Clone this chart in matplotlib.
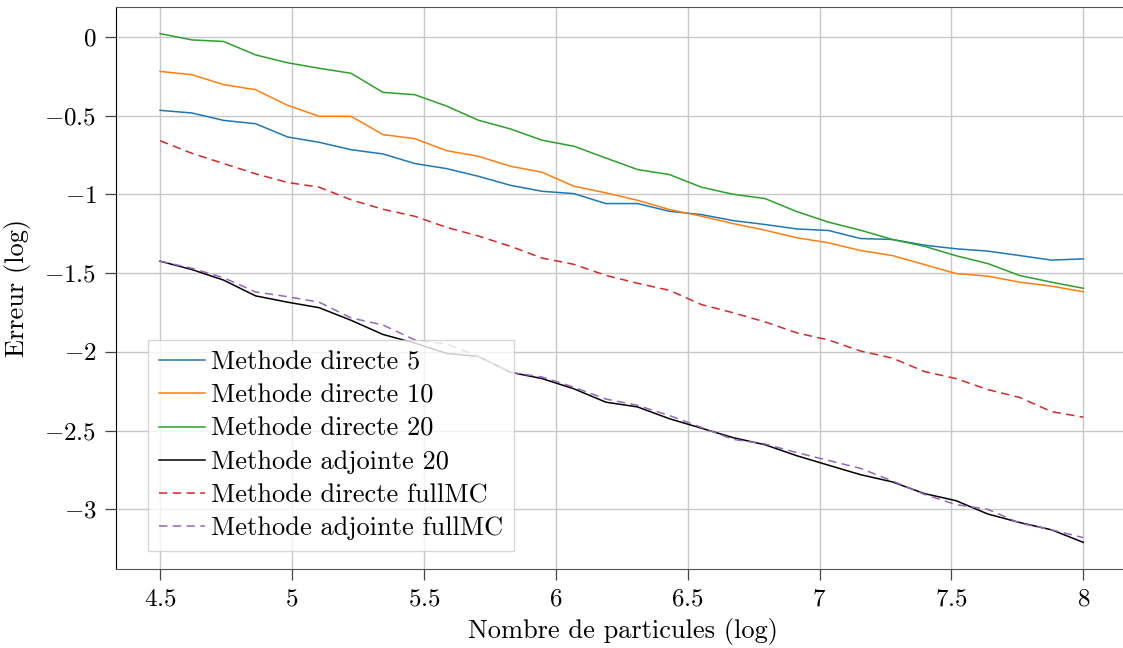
import numpy as np
import matplotlib
matplotlib.use("Agg")
import matplotlib.pyplot as plt
from matplotlib.ticker import FuncFormatter, MultipleLocator

# Computer Modern look (text in cmr10, tick numbers through mathtext)
plt.rcParams['font.family'] = 'serif'
plt.rcParams['font.serif'] = ['cmr10']
plt.rcParams['mathtext.fontset'] = 'cm'
plt.rcParams['axes.formatter.use_mathtext'] = True

# log10 of the number of particles
log_n = [4.5, 4.621, 4.741, 4.862, 4.983, 5.103, 5.224, 5.345, 5.466, 5.586,
         5.707, 5.828, 5.948, 6.069, 6.190, 6.310, 6.431, 6.552, 6.672, 6.793,
         6.914, 7.034, 7.155, 7.276, 7.397, 7.517, 7.638, 7.759, 7.879, 8.0]

# log10 of the error for each method
err_directe_5 = [-0.467, -0.484, -0.531, -0.552, -0.636, -0.670, -0.717, -0.744, -0.805, -0.837,
                 -0.886, -0.943, -0.981, -0.996, -1.059, -1.059, -1.108, -1.129, -1.167, -1.192,
                 -1.220, -1.230, -1.281, -1.287, -1.323, -1.346, -1.361, -1.389, -1.418, -1.410]
err_directe_10 = [-0.220, -0.241, -0.304, -0.336, -0.435, -0.505, -0.505, -0.621, -0.647, -0.723,
                  -0.759, -0.822, -0.860, -0.949, -0.991, -1.038, -1.097, -1.139, -1.186, -1.228,
                  -1.276, -1.308, -1.357, -1.389, -1.446, -1.503, -1.520, -1.558, -1.583, -1.619]
err_directe_20 = [0.020, -0.020, -0.030, -0.115, -0.165, -0.200, -0.232, -0.353, -0.368, -0.440,
                  -0.530, -0.585, -0.657, -0.695, -0.770, -0.843, -0.875, -0.955, -1.000, -1.027,
                  -1.110, -1.177, -1.228, -1.287, -1.330, -1.390, -1.440, -1.516, -1.558, -1.597]
err_adjointe_20 = [-1.425, -1.478, -1.545, -1.645, -1.685, -1.720, -1.800, -1.890, -1.945, -2.010,
                   -2.030, -2.130, -2.170, -2.235, -2.320, -2.350, -2.425, -2.485, -2.545, -2.590,
                   -2.660, -2.720, -2.780, -2.826, -2.900, -2.945, -3.030, -3.084, -3.130, -3.210]
err_directe_full = [-0.660, -0.740, -0.805, -0.870, -0.925, -0.955, -1.035, -1.095, -1.140, -1.210,
                    -1.265, -1.330, -1.405, -1.445, -1.515, -1.565, -1.610, -1.700, -1.752, -1.810,
                    -1.880, -1.925, -1.995, -2.040, -2.125, -2.170, -2.240, -2.290, -2.380, -2.415]
err_adjointe_full = [-1.425, -1.470, -1.530, -1.620, -1.650, -1.685, -1.785, -1.830, -1.925, -1.950,
                     -2.030, -2.130, -2.160, -2.225, -2.300, -2.340, -2.405, -2.480, -2.556, -2.585,
                     -2.640, -2.690, -2.740, -2.820, -2.905, -2.970, -3.000, -3.088, -3.130, -3.180]

fig = plt.figure(figsize=(11.23, 6.48), dpi=100)
ax = fig.add_axes([116 / 1123, 79 / 648, 1013.5 / 1123, 561.7 / 648])

lw = 1.1
dash = (0, (5.5, 3.5))
ax.plot(log_n, err_directe_5, color='tab:blue', lw=lw, label='Methode directe 5')
ax.plot(log_n, err_directe_10, color='tab:orange', lw=lw, label='Methode directe 10')
ax.plot(log_n, err_directe_20, color='tab:green', lw=lw, label='Methode directe 20')
ax.plot(log_n, err_adjointe_20, color='black', lw=lw, label='Methode adjointe 20')
ax.plot(log_n, err_directe_full, color='tab:red', lw=lw, ls=dash, label='Methode directe fullMC')
ax.plot(log_n, err_adjointe_full, color='tab:purple', lw=lw, ls=dash, label='Methode adjointe fullMC')

ax.set_xlim(4.333, 8.175)
ax.set_ylim(-3.379, 0.187)
ax.xaxis.set_major_locator(MultipleLocator(0.5))
ax.yaxis.set_major_locator(MultipleLocator(0.5))
fmt = FuncFormatter(lambda v, pos: r'$%g$' % (0 if abs(v) < 1e-9 else v))
ax.xaxis.set_major_formatter(fmt)
ax.yaxis.set_major_formatter(fmt)

ax.grid(True, color='#c8c8c8', lw=1.0)
ax.set_axisbelow(True)
ax.tick_params(direction='out', length=8, width=0.9, color='#444444', labelsize=18, pad=6)
for side in ['top', 'right', 'bottom']:
    ax.spines[side].set_color('#555555')
ax.spines['left'].set_color('black')

ax.set_xlabel('Nombre de particules (log)', fontsize=19, labelpad=5)
ax.set_ylabel('Erreur (log)', fontsize=19, labelpad=10)

leg = ax.legend(loc='lower left', bbox_to_anchor=(0.0316, 0.032), borderaxespad=0,
                fontsize=19, fancybox=False, framealpha=0.8,
                edgecolor='#cccccc', handlelength=1.75,
                labelspacing=0.36, borderpad=0.4, handletextpad=0.25)
leg.get_frame().set_linewidth(1.0)

fig.savefig('out.png', dpi=100)
